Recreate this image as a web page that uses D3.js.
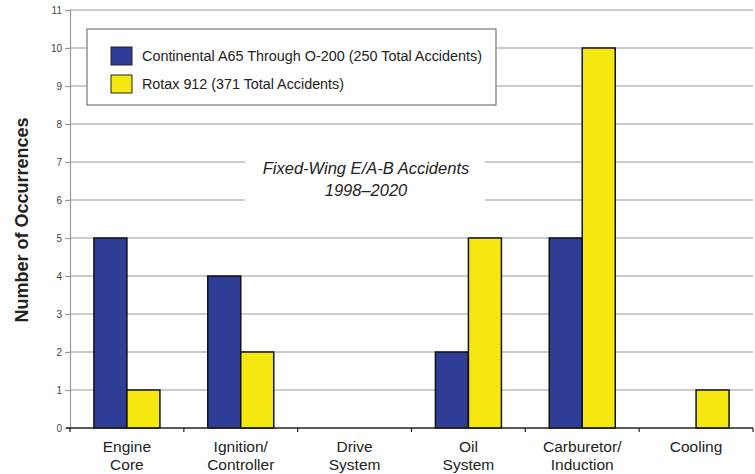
<!DOCTYPE html>
<html><head><meta charset="utf-8">
<script src="https://cdn.jsdelivr.net/npm/d3@7"></script>
<style>body{margin:0;background:#fff}svg{display:block}</style>
</head><body>
<svg id="c" width="755" height="474"></svg>
<script>
const categories = [["Engine","Core"],["Ignition/","Controller"],["Drive","System"],["Oil","System"],["Carburetor/","Induction"],["Cooling",""]];
const continental = [5,4,0,2,5,0];
const rotax = [1,2,0,5,10,1];
const seriesNames = ["Continental  A65 Through O-200 (250 Total Accidents)","Rotax 912 (371 Total Accidents)"];
const seriesColors = ["#2f3d97","#f5e811"];
const yTicks = [0,1,2,3,4,5,6,7,8,9,10,11];

const FONT = "Liberation Sans, Arial, sans-serif";
const svg = d3.select("#c");
const L=70,R=753,T=10,B=428;
const x = d3.scaleBand().domain(d3.range(categories.length)).range([L,R]).paddingInner(0).paddingOuter(0);
const x1 = d3.scaleBand().domain([0,1]).range([0,x.bandwidth()]).paddingInner(0).paddingOuter(0.725);
const y = d3.scaleLinear().domain([0,11]).range([B,T]);

// gridlines
svg.append("g").selectAll("line").data(yTicks.filter(d=>d>0)).join("line")
  .attr("x1",L).attr("x2",R).attr("y1",d=>y(d)).attr("y2",d=>y(d))
  .attr("stroke","#9a9a9a").attr("stroke-width",1.2);

// y axis
const ya = svg.append("g").attr("transform",`translate(${L},0)`)
  .call(d3.axisLeft(y).tickValues(yTicks).tickSize(5).tickPadding(3));
ya.select(".domain").attr("stroke","#9a9a9a").attr("stroke-width",1.2);
ya.selectAll(".tick line").attr("stroke","#9a9a9a").attr("stroke-width",1.2);
ya.selectAll("text").attr("font-family",FONT).attr("font-size",10).attr("fill","#444");

// title text block with white background
const tg = svg.append("g");
tg.append("rect").attr("x",245).attr("y",150).attr("width",240).attr("height",58).attr("fill","#fff");
tg.append("text").attr("x",366).attr("y",174).attr("text-anchor","middle")
  .attr("font-family",FONT).attr("font-style","italic").attr("font-size",16.5).attr("fill","#222")
  .text("Fixed-Wing E/A-B Accidents");
tg.append("text").attr("x",366).attr("y",196).attr("text-anchor","middle")
  .attr("font-family",FONT).attr("font-style","italic").attr("font-size",16.5).attr("fill","#222")
  .text("1998–2020");

// legend
const lg = svg.append("g");
lg.append("rect").attr("x",87).attr("y",29).attr("width",409).attr("height",76)
  .attr("fill","#fff").attr("stroke","#777").attr("stroke-width",1.2);
seriesNames.forEach((n,i)=>{
  lg.append("rect").attr("x",111).attr("y",47+i*28).attr("width",21).attr("height",18)
    .attr("fill",seriesColors[i]).attr("stroke","#222").attr("stroke-width",1);
  lg.append("text").attr("x",142).attr("y",61+i*28)
    .attr("font-family",FONT).attr("font-size",14).attr("fill","#222")
    .attr("textLength", i===0 ? 340 : 202).attr("lengthAdjust","spacingAndGlyphs").text(n);
});

// bars
const data = categories.map((c,i)=>[continental[i],rotax[i]]);
const groups = svg.append("g").selectAll("g").data(data).join("g")
  .attr("transform",(d,i)=>`translate(${x(i)},0)`);
groups.selectAll("rect").data(d=>d.map((v,j)=>({v,j}))).join("rect")
  .filter(d=>d.v>0)
  .attr("x",d=>x1(d.j)).attr("width",x1.bandwidth())
  .attr("y",d=>y(d.v)).attr("height",d=>y(0)-y(d.v))
  .attr("fill",d=>seriesColors[d.j]).attr("stroke","#111").attr("stroke-width",1.5);

// x axis
const xa = svg.append("g").attr("transform",`translate(0,${B})`);
xa.append("line").attr("x1",L-4).attr("x2",R).attr("stroke","#222").attr("stroke-width",1.6);
xa.selectAll("line.t").data(d3.range(categories.length+1)).join("line").attr("class","t")
  .attr("x1",i=>L+i*x.bandwidth()).attr("x2",i=>L+i*x.bandwidth()).attr("y1",0).attr("y2",4)
  .attr("stroke","#222").attr("stroke-width",1.2);
const lbl = xa.selectAll("text").data(categories).join("text")
  .attr("x",(d,i)=>x(i)+x.bandwidth()/2).attr("y",24).attr("text-anchor","middle")
  .attr("font-family",FONT).attr("font-size",15.5).attr("fill","#222");
lbl.append("tspan").attr("x",(d,i)=>x(i)+x.bandwidth()/2).attr("dy",0).text(d=>d[0]);
lbl.append("tspan").attr("x",(d,i)=>x(i)+x.bandwidth()/2).attr("dy",18).text(d=>d[1]);

// y title
svg.append("text").attr("transform","translate(28,220) rotate(-90)").attr("text-anchor","middle")
  .attr("font-family",FONT).attr("font-weight","bold").attr("font-size",18).attr("fill","#222")
  .text("Number of Occurrences");
</script>
</body></html>
